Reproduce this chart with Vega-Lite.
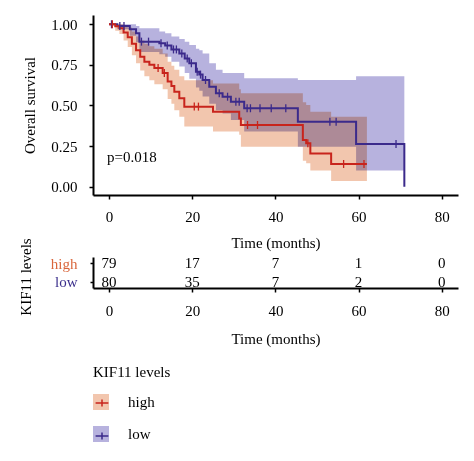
{
  "$schema": "https://vega.github.io/schema/vega-lite/v6.json",
  "padding": {"left": 18, "top": 15, "right": 5, "bottom": 5},
  "background": "white",
  "config": {
    "font": "Liberation Serif",
    "view": {"stroke": null},
    "axis": {
      "domainColor": "black", "domainWidth": 2, "tickColor": "black", "tickWidth": 1.5, "tickSize": 4,
      "labelFont": "Liberation Serif", "labelFontSize": 15, "labelColor": "black", "labelPadding": 12,
      "titleFont": "Liberation Serif", "titleFontSize": 15, "titleFontWeight": "normal", "titleColor": "black",
      "grid": false
    },
    "legend": {"labelFont": "Liberation Serif", "titleFont": "Liberation Serif"}
  },
  "datasets": {
    "curves": [
      {"group": "low", "t": 0, "s": 1.0, "lo": 1.0, "hi": 1.0},
      {"group": "low", "t": 2, "s": 0.99, "lo": 0.97, "hi": 1.0},
      {"group": "low", "t": 5, "s": 0.97, "lo": 0.93, "hi": 1.0},
      {"group": "low", "t": 6.5, "s": 0.945, "lo": 0.89, "hi": 0.99},
      {"group": "low", "t": 7.3, "s": 0.893, "lo": 0.83, "hi": 0.975},
      {"group": "low", "t": 12.1, "s": 0.883, "lo": 0.815, "hi": 0.955},
      {"group": "low", "t": 13.5, "s": 0.87, "lo": 0.8, "hi": 0.945},
      {"group": "low", "t": 15, "s": 0.845, "lo": 0.77, "hi": 0.924},
      {"group": "low", "t": 16.9, "s": 0.82, "lo": 0.74, "hi": 0.91},
      {"group": "low", "t": 18.2, "s": 0.79, "lo": 0.7, "hi": 0.893},
      {"group": "low", "t": 19.3, "s": 0.76, "lo": 0.665, "hi": 0.872},
      {"group": "low", "t": 20.9, "s": 0.708, "lo": 0.61, "hi": 0.85},
      {"group": "low", "t": 21.7, "s": 0.69, "lo": 0.59, "hi": 0.84},
      {"group": "low", "t": 22.5, "s": 0.657, "lo": 0.555, "hi": 0.82},
      {"group": "low", "t": 24.1, "s": 0.616, "lo": 0.51, "hi": 0.76},
      {"group": "low", "t": 25.7, "s": 0.575, "lo": 0.47, "hi": 0.72},
      {"group": "low", "t": 27.3, "s": 0.554, "lo": 0.45, "hi": 0.7},
      {"group": "low", "t": 29.3, "s": 0.523, "lo": 0.41, "hi": 0.7},
      {"group": "low", "t": 32.5, "s": 0.483, "lo": 0.34, "hi": 0.667},
      {"group": "low", "t": 45.4, "s": 0.4, "lo": 0.246, "hi": 0.657},
      {"group": "low", "t": 59.4, "s": 0.263, "lo": 0.1, "hi": 0.68},
      {"group": "low", "t": 71, "s": 0.0, "lo": 0.1, "hi": 0.68},
      {"group": "high", "t": 0, "s": 1.0, "lo": 1.0, "hi": 1.0},
      {"group": "high", "t": 1.5, "s": 0.987, "lo": 0.96, "hi": 1.0},
      {"group": "high", "t": 2.5, "s": 0.975, "lo": 0.94, "hi": 1.0},
      {"group": "high", "t": 3.5, "s": 0.95, "lo": 0.9, "hi": 0.995},
      {"group": "high", "t": 4.5, "s": 0.92, "lo": 0.86, "hi": 0.98},
      {"group": "high", "t": 5.5, "s": 0.88, "lo": 0.81, "hi": 0.955},
      {"group": "high", "t": 6.5, "s": 0.84, "lo": 0.76, "hi": 0.925},
      {"group": "high", "t": 7.5, "s": 0.8, "lo": 0.715, "hi": 0.9},
      {"group": "high", "t": 8.5, "s": 0.77, "lo": 0.68, "hi": 0.88},
      {"group": "high", "t": 9.7, "s": 0.75, "lo": 0.655, "hi": 0.865},
      {"group": "high", "t": 10.9, "s": 0.73, "lo": 0.63, "hi": 0.85},
      {"group": "high", "t": 12.9, "s": 0.7, "lo": 0.6, "hi": 0.82},
      {"group": "high", "t": 14.1, "s": 0.647, "lo": 0.54, "hi": 0.77},
      {"group": "high", "t": 15, "s": 0.62, "lo": 0.51, "hi": 0.745},
      {"group": "high", "t": 15.7, "s": 0.585, "lo": 0.47, "hi": 0.72},
      {"group": "high", "t": 16.9, "s": 0.544, "lo": 0.43, "hi": 0.68},
      {"group": "high", "t": 18.1, "s": 0.493, "lo": 0.37, "hi": 0.655},
      {"group": "high", "t": 25, "s": 0.462, "lo": 0.34, "hi": 0.635},
      {"group": "high", "t": 31.3, "s": 0.42, "lo": 0.32, "hi": 0.6},
      {"group": "high", "t": 31.7, "s": 0.38, "lo": 0.246, "hi": 0.575},
      {"group": "high", "t": 46.6, "s": 0.288, "lo": 0.16, "hi": 0.52},
      {"group": "high", "t": 47.4, "s": 0.267, "lo": 0.144, "hi": 0.503},
      {"group": "high", "t": 48.4, "s": 0.205, "lo": 0.1, "hi": 0.462},
      {"group": "high", "t": 53.4, "s": 0.14, "lo": 0.035, "hi": 0.43},
      {"group": "high", "t": 62, "s": 0.14, "lo": 0.035, "hi": 0.43}
    ],
    "censor": [
      {"group": "low", "t": 0.6, "s": 1.0},
      {"group": "low", "t": 2.6, "s": 0.99},
      {"group": "low", "t": 3.6, "s": 0.99},
      {"group": "low", "t": 7.8, "s": 0.893},
      {"group": "low", "t": 9.5, "s": 0.893},
      {"group": "low", "t": 12.5, "s": 0.883},
      {"group": "low", "t": 14, "s": 0.87},
      {"group": "low", "t": 15.5, "s": 0.845},
      {"group": "low", "t": 16.2, "s": 0.845},
      {"group": "low", "t": 17.5, "s": 0.82},
      {"group": "low", "t": 18.8, "s": 0.79},
      {"group": "low", "t": 19.8, "s": 0.76},
      {"group": "low", "t": 21.2, "s": 0.708},
      {"group": "low", "t": 22, "s": 0.69},
      {"group": "low", "t": 23.2, "s": 0.657},
      {"group": "low", "t": 26.5, "s": 0.575},
      {"group": "low", "t": 28.5, "s": 0.554},
      {"group": "low", "t": 30.5, "s": 0.523},
      {"group": "low", "t": 31.3, "s": 0.523},
      {"group": "low", "t": 33.2, "s": 0.483},
      {"group": "low", "t": 34, "s": 0.483},
      {"group": "low", "t": 36.3, "s": 0.483},
      {"group": "low", "t": 39, "s": 0.483},
      {"group": "low", "t": 42.5, "s": 0.483},
      {"group": "low", "t": 53.1, "s": 0.4},
      {"group": "low", "t": 54.6, "s": 0.4},
      {"group": "low", "t": 69, "s": 0.263},
      {"group": "high", "t": 0.8, "s": 1.0},
      {"group": "high", "t": 11.8, "s": 0.73},
      {"group": "high", "t": 13.3, "s": 0.7},
      {"group": "high", "t": 20.5, "s": 0.493},
      {"group": "high", "t": 21.5, "s": 0.493},
      {"group": "high", "t": 33.3, "s": 0.38},
      {"group": "high", "t": 35.7, "s": 0.38},
      {"group": "high", "t": 47.8, "s": 0.267},
      {"group": "high", "t": 56.4, "s": 0.14},
      {"group": "high", "t": 61.3, "s": 0.14}
    ],
    "pval": [{"t": -0.5, "s": 0.185, "label": "p=0.018"}],
    "risk": [
      {"group": "high", "t": 0, "n": 79},
      {"group": "high", "t": 20, "n": 17},
      {"group": "high", "t": 40, "n": 7},
      {"group": "high", "t": 60, "n": 1},
      {"group": "high", "t": 80, "n": 0},
      {"group": "low", "t": 0, "n": 80},
      {"group": "low", "t": 20, "n": 35},
      {"group": "low", "t": 40, "n": 7},
      {"group": "low", "t": 60, "n": 2},
      {"group": "low", "t": 80, "n": 0}
    ]
  },
  "spacing": -13,
  "vconcat": [
    {
      "width": 365,
      "height": 180,
      "layer": [
        {
          "data": {"name": "curves"},
          "mark": {"type": "area", "interpolate": "step-after", "opacity": 1, "blend": "multiply"},
          "encoding": {
            "x": {"field": "t", "type": "quantitative", "scale": {"domain": [-3.85, 83.9], "nice": false, "zero": false},
                  "axis": {"values": [0, 20, 40, 60, 80], "title": "Time (months)", "labelPadding": 10, "titlePadding": 11}},
            "y": {"field": "lo", "type": "quantitative", "scale": {"domain": [-0.051, 1.057], "nice": false, "zero": false},
                  "axis": {"values": [0, 0.25, 0.5, 0.75, 1], "format": ".2f", "title": "Overall survival", "titlePadding": 13}},
            "y2": {"field": "hi"},
            "fill": {"field": "group", "type": "nominal",
                     "scale": {"range": ["#f2c6ae", "#b7b2de"]},
                     "legend": {"orient": "none", "legendX": 0, "legendY": 350, "title": "KIF11 levels",
                                "titleFontSize": 15, "titleFontWeight": "normal", "titleColor": "black", "titlePadding": 14,
                                "labelFontSize": 15, "labelColor": "black", "labelOffset": 19,
                                "symbolType": "square", "symbolSize": 256, "symbolStrokeWidth": 0, "symbolOpacity": 1,
                                "rowPadding": 16}}
          }
        },
        {
          "data": {"name": "curves"},
          "mark": {"type": "line", "interpolate": "step-after", "strokeWidth": 2},
          "encoding": {
            "x": {"field": "t", "type": "quantitative"},
            "y": {"field": "s", "type": "quantitative"},
            "stroke": {"field": "group", "type": "nominal",
                       "scale": {"domain": ["high", "low"], "range": ["#c8241c", "#3b2a8b"]},
                       "legend": {"orient": "none", "legendX": 0, "legendY": 350, "title": "KIF11 levels",
                                  "titleFontSize": 15, "titleFontWeight": "normal", "titleColor": "transparent", "titlePadding": 14,
                                  "labelFontSize": 15, "labelColor": "transparent", "labelOffset": 19, "labelExpr": "''",
                                  "symbolType": "M-0.8,0H0.8M0,-0.45V0.45", "symbolSize": 256, "symbolStrokeWidth": 1.5,
                                  "symbolFillColor": "transparent", "symbolOpacity": 1,
                                  "rowPadding": 16}}
          }
        },
        {
          "data": {"name": "censor"},
          "mark": {"type": "point", "shape": "M0,-1V1", "size": 64, "strokeWidth": 1.3, "filled": false, "opacity": 1},
          "encoding": {
            "x": {"field": "t", "type": "quantitative"},
            "y": {"field": "s", "type": "quantitative"},
            "stroke": {"field": "group", "type": "nominal"}
          }
        },
        {
          "data": {"name": "pval"},
          "mark": {"type": "text", "align": "left", "baseline": "middle", "fontSize": 15, "color": "black"},
          "encoding": {
            "x": {"field": "t", "type": "quantitative"},
            "y": {"field": "s", "type": "quantitative"},
            "text": {"field": "label"}
          }
        }
      ]
    },
    {
      "width": 365,
      "height": 31,
      "data": {"name": "risk"},
      "mark": {"type": "text", "fontSize": 15, "color": "black", "baseline": "middle", "align": "center"},
      "encoding": {
        "x": {"field": "t", "type": "quantitative", "scale": {"domain": [-3.85, 83.9], "nice": false, "zero": false},
              "axis": {"values": [0, 20, 40, 60, 80], "title": "Time (months)", "titlePadding": 13, "labelPadding": 11}},
        "y": {"field": "group", "type": "nominal", "scale": {"type": "point", "padding": 0.316, "domain": ["high", "low"]},
              "axis": {"title": "KIF11 levels", "titlePadding": 17, "titleY": 19.5, "tickSize": 3, "labelPadding": 13,
                       "labelColor": {"condition": {"test": "datum.value == 'high'", "value": "#d9663c"}, "value": "#3b2f8c"}}},
        "text": {"field": "n", "type": "quantitative"}
      }
    }
  ]
}
